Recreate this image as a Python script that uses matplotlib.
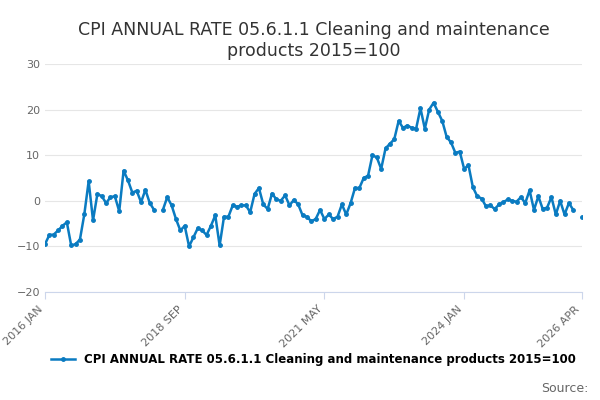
import numpy as np
import matplotlib.pyplot as plt


def main():
    # Monthly annual rate values, Jan 2016 - Apr 2026 (nan = no value)
    values = [-9.5, -7.5, -7.4, -6.5, -5.5, -4.7, -9.8, -9.5, -8.5, -3,
              4.3, -4.3, 1.5, 1, -0.5, 0.8, 1, -2.3, 6.6, 4.5,
              1.8, 2.2, -0.3, 2.4, -0.5, -2, np.nan, -2, 0.8, -1,
              -4, -6.5, -5.5, -10, -8, -6, -6.5, -7.5, -5.5, -3.2,
              -9.8, -3.5, -3.5, -1, -1.3, -1, -1, -2.5, 1.5, 2.8,
              -0.8, -1.8, 1.6, 0.3, 0, 1.2, -1, 0.2, -0.8, -3.2,
              -3.5, -4.5, -4, -2, -4, -3, -4, -3.5, -0.8, -3,
              -0.5, 2.8, 2.8, 5, 5.5, 10, 9.5, 7, 11.5, 12.5,
              13.5, 17.5, 16, 16.5, 16, 15.8, 20.3, 15.8, 20, 21.5,
              19.5, 17.5, 14, 12.8, 10.5, 10.8, 7, 7.8, 3, 1,
              0.5, -1.2, -1, -1.8, -0.8, -0.3, 0.3, 0, -0.2, 0.8,
              -0.5, 2.3, -2, 1, -1.8, -1.5, 0.8, -3, 0, -3,
              -0.5, -2, np.nan, -3.6]
    label = "CPI ANNUAL RATE 05.6.1.1 Cleaning and maintenance products 2015=100"

    fig, ax = plt.subplots(figsize=(6, 4), dpi=100)
    x_values = range(len(values))
    ax.plot(x_values, values, color='#0a7bc1', marker='o', markersize=2.5, linewidth=1.8, label=label)
    ax.set_title("CPI ANNUAL RATE 05.6.1.1 Cleaning and maintenance\nproducts 2015=100", fontsize=12.5, color='#333333')
    ax.set_ylim(-20, 30)
    ax.set_yticks([-20, -10, 0, 10, 20, 30])
    ax.set_xlim(0, 123)
    ax.set_xticks([0, 32, 64, 96, 123])
    ax.set_xticklabels(["2016 JAN", "2018 SEP", "2021 MAY", "2024 JAN", "2026 APR"], rotation=45, ha='right')
    ax.tick_params(colors='#666666', labelsize=8, length=0)
    ax.tick_params(axis='x', length=5, color='#ccd6eb')
    ax.grid(True, axis='y', color='#e6e6e6')
    for side in ['top', 'right', 'left']:
        ax.spines[side].set_visible(False)
    ax.spines['bottom'].set_color('#ccd6eb')
    ax.legend(loc='upper center', bbox_to_anchor=(0.5, -0.22), frameon=False,
              prop={'weight': 'bold', 'size': 8.5})
    fig.text(0.98, 0.02, "Source:", ha='right', fontsize=9, color='#666666')
    fig.subplots_adjust(left=0.075, right=0.97, top=0.84, bottom=0.27)
    fig.savefig("out.png")


if __name__ == "__main__":
    main()
